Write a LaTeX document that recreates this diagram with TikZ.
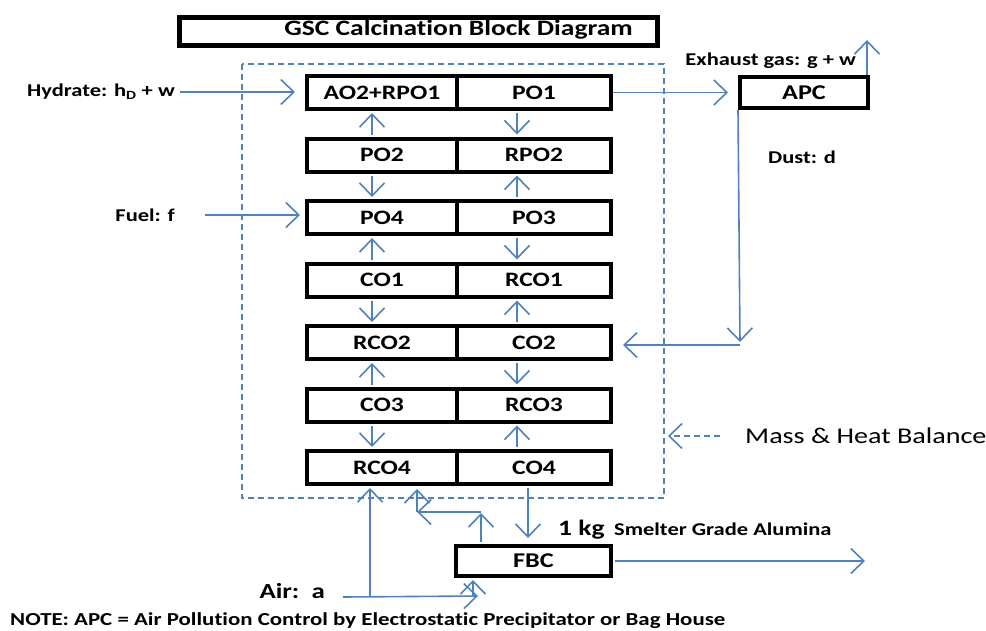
\documentclass[tikz,border=0pt]{standalone}
\usepackage{fontspec}
\setmainfont[FakeStretch=1.25, RawFeature=-liga]{Carlito}
\usetikzlibrary{arrows.meta}
\definecolor{flow}{HTML}{4F81BD}
\begin{document}
\begin{tikzpicture}[x=1pt,y=-1pt,
  cellL/.style={draw, line width=4pt, minimum width=150pt, minimum height=33pt,
    inner sep=0pt, font=\bfseries\fontsize{20.5}{20.5}\selectfont},
  cellR/.style={cellL, minimum width=154pt},
  unit/.style={draw, line width=4pt, inner sep=0pt, font=\bfseries\fontsize{21}{21}\selectfont},
  lbl/.style={inner sep=0pt, font=\bfseries\fontsize{18}{18}\selectfont},
  arr/.style={draw=flow, line width=1.6pt, arrows={-Straight Barb[length=13pt,width=25pt]}},
  boundary/.style={draw=flow, line width=1.5pt, dash pattern=on 6pt off 4pt}]
\useasboundingbox (0,0) rectangle (986,630);

% title
\node[draw, line width=4.5pt, minimum width=478pt, minimum height=28pt, inner sep=0pt]
  (titlebox) at (418.5,31.5) {};
\node[inner sep=0pt, font=\bfseries\fontsize{22}{22}\selectfont] (title) at (458.5,30) {GSC Calcination Block Diagram};

% control volume for the balance
\draw[boundary] (242,64) rectangle (664,498);

% paired stage blocks
\foreach \i/\a/\b in {1/AO2+RPO1/PO1, 2/PO2/RPO2, 3/PO4/PO3, 4/CO1/RCO1,
                      5/RCO2/CO2, 6/CO3/RCO3, 7/RCO4/CO4} {
  \node[cellL] (l\i) at (382,{92.5+62.5*(\i-1)}) {\a};
  \node[cellR] (r\i) at (534,{92.5+62.5*(\i-1)}) {\b};
}
\coordinate (cl) at (372,0);
\coordinate (cr) at (517,0);

% flows between stages
\begin{scope}[shorten <=2pt, shorten >=2pt]
  \draw[arr] (l2.north -| cl) -- (l1.south -| cl);
  \draw[arr] (r1.south -| cr) -- (r2.north -| cr);
  \draw[arr] (l2.south -| cl) -- (l3.north -| cl);
  \draw[arr] (r3.north -| cr) -- (r2.south -| cr);
  \draw[arr] (l4.north -| cl) -- (l3.south -| cl);
  \draw[arr] (r3.south -| cr) -- (r4.north -| cr);
  \draw[arr] (l4.south -| cl) -- (l5.north -| cl);
  \draw[arr] (r5.north -| cr) -- (r4.south -| cr);
  \draw[arr] (l6.north -| cl) -- (l5.south -| cl);
  \draw[arr] (r5.south -| cr) -- (r6.north -| cr);
  \draw[arr] (l6.south -| cl) -- (l7.north -| cl);
  \draw[arr] (r7.north -| cr) -- (r6.south -| cr);
\end{scope}

% air pollution control and fluid bed cooler
\node[unit, minimum width=128pt, minimum height=31pt] (apc) at (804,92.5) {APC};
\node[unit, minimum width=155pt, minimum height=30pt] (fbc) at (533.5,561) {FBC};

% feeds
\node[lbl, anchor=east] (hyd) at (175,92) {Hydrate: h\textsubscript{D} + w};
\draw[arr, shorten <=5pt, shorten >=10pt] (hyd.east) -- (l1.west |- hyd.east);
\node[lbl, anchor=east] (fuel) at (175,215) {Fuel: f};
\draw[arr, shorten <=30pt, shorten >=5pt] (fuel.east) -- (l3.west |- fuel.east);

% gas to APC, exhaust and dust return
\draw[arr, shorten >=10pt] (r1.east) -- (apc.west |- r1.east);
\coordinate (exh) at (867,40);
\draw[arr] (apc.north east -| exh) -- (exh);
\node[lbl, anchor=east] (exhlbl) at (856,61) {Exhaust gas: g + w};
\coordinate (dcorner) at (740,342);
\draw[arr] (apc.south west) -- (dcorner);
\node[lbl] (dust) at (802,157) {Dust: d};
\coordinate (dret) at (740,345);
\draw[arr, shorten >=10pt] (dret) -- (r5.east |- dret);

% product to cooler and cooler loops
\coordinate (cp) at (528,0);
\draw[arr, shorten <=2pt, shorten >=6pt] (r7.south -| cp) -- (fbc.north -| cp);
\coordinate (fup) at (481,513);
\draw[arr, shorten <=2pt] (fbc.north -| fup) -- (fup);
\coordinate (fleft) at (417,512);
\draw[arr] (fup) ++(0,-1) -- (fleft);
\draw[arr, shorten >=3pt] (fleft) -- (l7.south -| fleft);
\draw[arr, shorten <=2pt] (fbc.east) -- ++(252,0) coordinate (prod);
\node[inner sep=0pt, anchor=base west, font=\bfseries\fontsize{22}{22}\selectfont] (kg) at (558,535) {1 kg};
\node[inner sep=0pt, anchor=base west, font=\bfseries\fontsize{18}{18}\selectfont] (sga) at (614,535) {Smelter Grade Alumina};

% combustion air
\node[inner sep=0pt, anchor=east, font=\bfseries\fontsize{21.5}{21.5}\selectfont] (air) at (325,591) {Air:\ \ a};
\coordinate (astart) at (343,597);
\coordinate (aend) at (478,596);
\draw[arr] (astart) -- (aend);
\coordinate (arcol) at (370,597);
\draw[arr, shorten >=2pt] (arcol) -- (l7.south -| arcol);
\coordinate (afbc) at (473,596);
\draw[arr, shorten >=2pt] (afbc) -- (fbc.south -| afbc);

% balance boundary label
\node[inner sep=0pt, anchor=west, font=\fontsize{22.5}{22.5}\selectfont] (mhb) at (745,436) {Mass \& Heat Balance};
\draw[arr, dash pattern=on 6pt off 4pt] (720,436) -- (668,436);

% note
\node[inner sep=0pt, anchor=base west, font=\bfseries\fontsize{18.3}{18.3}\selectfont] (note) at (10,625)
  {NOTE: APC = Air Pollution Control by Electrostatic Precipitator or Bag House};
\end{tikzpicture}
\end{document}
